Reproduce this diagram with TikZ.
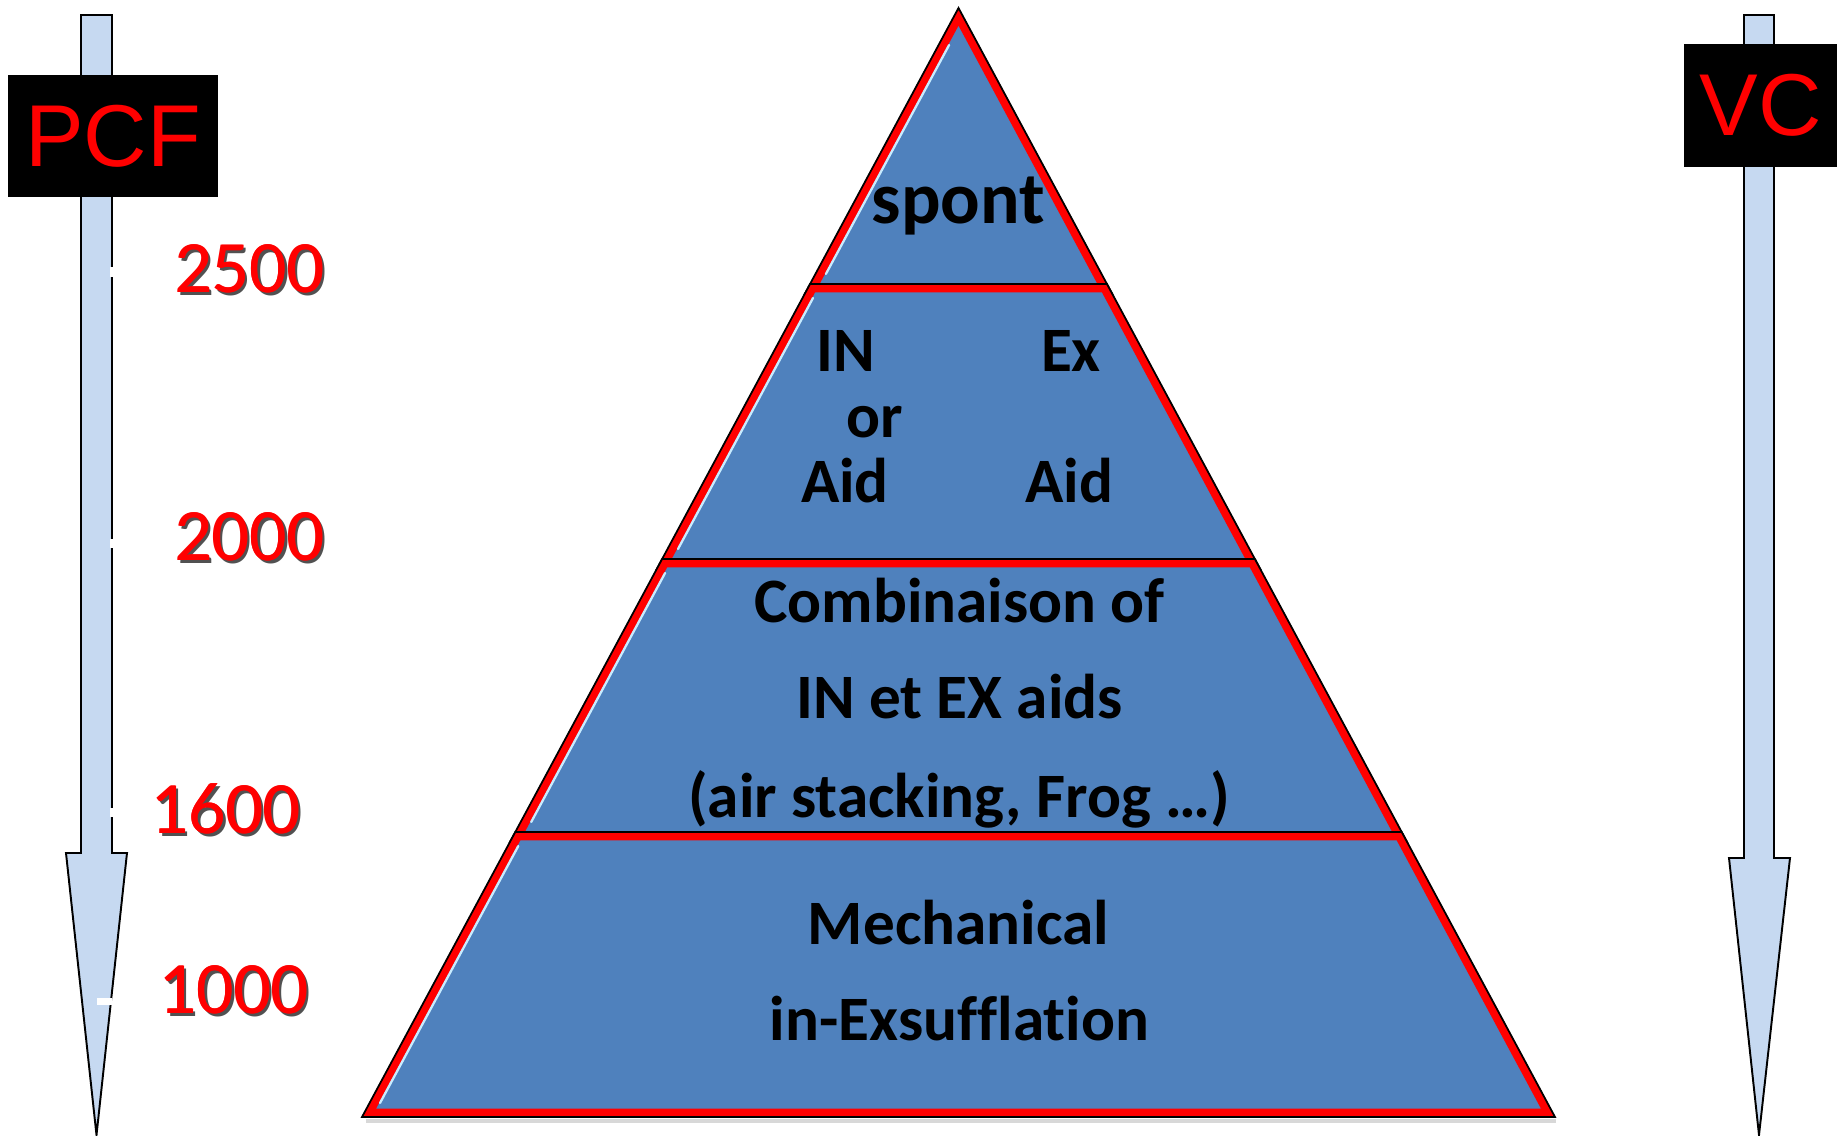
\documentclass[tikz,border=0pt]{standalone}
\usepackage{fontspec}
\newfontfamily\calfont{Carlito}[Ligatures={NoCommon}]
\newfontfamily\arialfont{Liberation Sans}
\definecolor{pyrblue}{HTML}{4F81BD}
\definecolor{arrowblue}{HTML}{C6D9F1}
\definecolor{hilite}{HTML}{C8ECFF}
\tikzset{
  hl/.style={draw=hilite, line width=1.3pt, line cap=round},
  arrowshape/.style={fill=arrowblue, draw=black, line width=1.1pt, line join=miter},
  pyrtext/.style={font=\calfont\bfseries\fontsize{36}{43}\selectfont, text=black, inner sep=0pt, anchor=base},
  numtext/.style={font=\calfont\fontsize{42}{50}\selectfont, text=red, inner sep=0pt, anchor=base},
  numshadow/.style={font=\calfont\fontsize{42}{50}\selectfont, text=black!85, inner sep=0pt, anchor=base, opacity=0.8},
  labelbox/.style={fill=black, text=red, font=\arialfont\fontsize{50}{60}\selectfont, inner sep=0pt}
}
% #1 outer polygon, #2 inset polygon (red band centre line), #3 highlight line
\newcommand\pyrlayer[3]{%
  \fill[pyrblue] #1;
  \draw[red, line width=5pt, line join=miter] #2;
  \draw[hl] #3;
  \draw[black, line width=1pt, line join=miter] #1;}
\begin{document}
\begin{tikzpicture}[x=0.02cm, y=-0.02cm]
\useasboundingbox (0,0) rectangle (1837,1136);

% ---------- arrows ----------
\draw[arrowshape] (81,15) -- (112,15) -- (112,853) -- (127,853) -- (96.5,1135) -- (66,853) -- (81,853) -- cycle;
\draw[arrowshape] (1744,15) -- (1774,15) -- (1774,858) -- (1790,858) -- (1759,1135) -- (1729,858) -- (1744,858) -- cycle;
% small white ticks on the left arrow
\fill[white] (110,267) rectangle (115,277);
\fill[white] (110,539) rectangle (115,548);
\fill[white] (110,808) rectangle (115,817);
\fill[white] (97,998) rectangle (112,1005);

% ---------- label boxes ----------
\node[labelbox, minimum width=4.2cm, minimum height=2.44cm] (pcf) at (113,136) {PCF};
\node[labelbox, minimum width=3.06cm, minimum height=2.46cm] (vc) at (1760.5,105.5) {VC};

% ---------- pyramid ----------
\draw[black!30, line width=2.5pt, opacity=0.5] (366,1121) -- (1556,1121);
\pyrlayer{(958.5,8) -- (1112.33,294) -- (804.67,294) -- cycle}
         {(958.5,16.44) -- (1105.64,290) -- (811.36,290) -- cycle}
         {(949.1,45) -- (825.9,274)}
\pyrlayer{(810.05,284) -- (1106.95,284) -- (1260.25,569) -- (656.75,569) -- cycle}
         {(812.44,288) -- (1104.56,288) -- (1253.55,565) -- (663.45,565) -- cycle}
         {(813.0,298) -- (678.0,549)}
\pyrlayer{(662.13,559) -- (1254.87,559) -- (1407.08,842) -- (509.92,842) -- cycle}
         {(664.52,563) -- (1252.48,563) -- (1400.39,838) -- (516.61,838) -- cycle}
         {(665.1,573) -- (531.2,822)}
\pyrlayer{(515.3,832) -- (1401.7,832) -- (1555,1117) -- (362,1117) -- cycle}
         {(517.68,836) -- (1399.32,836) -- (1548.31,1113) -- (368.69,1113) -- cycle}
         {(518.3,846) -- (380.0,1103)}

% ---------- pyramid texts ----------
\node[pyrtext, font=\calfont\bfseries\fontsize{42}{50}\selectfont] (spont) at (958.5,223) {spont};
\node[pyrtext] (in) at (845.5,371) {IN};
\node[pyrtext] (ex) at (1071,371) {Ex};
\node[pyrtext] (or) at (875,437) {or};
\node[pyrtext] (aidl) at (845,502) {Aid};
\node[pyrtext] (aidr) at (1069.5,502) {Aid};
\node[pyrtext] (comb1) at (959.5,622) {Combinaison of};
\node[pyrtext] (comb2) at (959.5,718) {IN et EX aids};
\node[pyrtext] (comb3) at (959,817) {(air stacking, Frog …)};
\node[pyrtext] (mech1) at (958.5,944) {Mechanical};
\node[pyrtext] (mech2) at (959.5,1040) {in-Exsufflation};

% ---------- numbers ----------
\node[numshadow] (s2500) at (252,295) {2500};
\node[numtext] (n2500) at (249,292) {2500};
\node[numtext] (m2500) at (249.8,292) {2500};
\node[numshadow] (s2000) at (252,563) {2000};
\node[numtext] (n2000) at (249,560) {2000};
\node[numtext] (m2000) at (249.8,560) {2000};
\node[numshadow] (s1600) at (228.5,836) {1600};
\node[numtext] (n1600) at (225.5,833) {1600};
\node[numtext] (m1600) at (226.3,833) {1600};
\node[numshadow] (s1000) at (236.5,1016) {1000};
\node[numtext] (n1000) at (233.5,1013) {1000};
\node[numtext] (m1000) at (234.3,1013) {1000};
\end{tikzpicture}
\end{document}
